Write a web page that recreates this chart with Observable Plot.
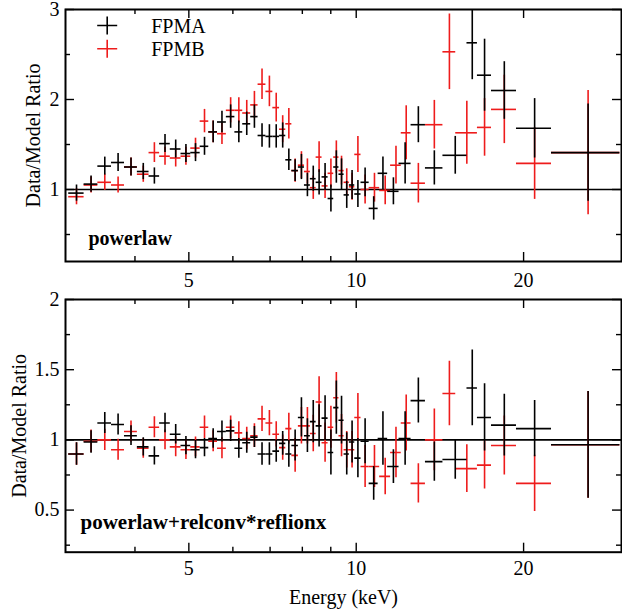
<!DOCTYPE html>
<html><head><meta charset="utf-8">
<script src="https://cdn.jsdelivr.net/npm/d3@7"></script>
<script src="https://cdn.jsdelivr.net/npm/@observablehq/plot@0.6"></script>
<style>
body{margin:0;background:#fff;}
#chart{width:622px;height:610px;}
#chart svg{display:block;}
</style></head><body><div id="chart"></div>
<script>
// ---------- DATA ----------
// energy bin edges (keV)
const edgesA = [3.04,3.24,3.43,3.63,3.83,4.04,4.24,4.43,4.63,4.84,5.04,5.24,5.43,5.63,5.84,6.05,6.25,6.46,6.66,6.88,7.08,7.28,7.47,7.66,7.87,8.07,8.27,8.47,8.68,8.90,9.11,9.31,9.51,9.72,9.94,10.20,10.55,10.95,11.39,11.94,12.55,13.32,14.32,15.82,16.52,17.51,19.42,22.45,29.8];
const edgesB = [3.04,3.24,3.43,3.63,3.83,4.04,4.24,4.43,4.63,4.84,5.04,5.24,5.43,5.63,5.84,6.05,6.25,6.46,6.66,6.88,7.08,7.28,7.47,7.66,7.87,8.07,8.27,8.47,8.68,8.90,9.11,9.31,9.51,9.72,9.94,10.20,10.55,11.02,11.53,12.05,12.55,13.32,14.32,15.10,16.52,17.51,19.42,22.45,29.8];
// FPMA, powerlaw
const ratioA_pl = [0.96,1.06,1.26,1.30,1.25,1.20,1.15,1.51,1.45,1.40,1.41,1.48,1.64,1.75,1.81,1.64,1.73,1.81,1.60,1.59,1.59,1.60,1.33,1.21,1.25,1.05,1.12,1.08,1.14,0.90,1.25,1.17,0.94,1.05,0.95,1.08,0.79,1.18,0.98,1.29,1.72,1.24,1.38,2.63,2.27,2.10,1.68,1.41];
const errA_pl = [0.09,0.09,0.10,0.10,0.10,0.09,0.09,0.10,0.10,0.10,0.10,0.10,0.12,0.12,0.13,0.12,0.13,0.13,0.13,0.13,0.13,0.14,0.12,0.12,0.14,0.13,0.14,0.14,0.15,0.15,0.18,0.17,0.15,0.16,0.15,0.16,0.13,0.18,0.15,0.23,0.20,0.19,0.21,0.41,0.40,0.32,0.33,0.54];
// FPMB, powerlaw
const ratioB_pl = [0.92,1.05,1.08,1.05,1.25,1.17,1.41,1.37,1.35,1.37,1.46,1.76,1.64,1.62,1.88,1.88,1.85,1.94,2.17,2.09,1.91,1.67,1.73,1.21,1.27,1.20,1.02,1.36,1.04,1.18,1.36,1.21,1.08,1.03,1.39,1.00,1.02,0.99,1.27,1.63,1.07,1.72,2.53,1.63,1.69,1.89,1.29,1.41];
const errB_pl = [0.09,0.09,0.09,0.09,0.10,0.09,0.11,0.10,0.10,0.10,0.11,0.13,0.12,0.12,0.14,0.14,0.14,0.15,0.17,0.17,0.16,0.15,0.17,0.13,0.15,0.14,0.13,0.17,0.14,0.16,0.18,0.16,0.15,0.15,0.20,0.16,0.16,0.16,0.21,0.30,0.22,0.27,0.42,0.35,0.32,0.38,0.40,0.69];
// FPMA, powerlaw+relconv*reflionx
const ratioA_rx = [0.90,0.985,1.12,1.11,1.03,0.95,0.886,1.12,1.04,0.96,0.93,0.945,1.01,1.06,1.064,0.94,0.98,1.02,0.90,0.90,0.92,0.975,0.90,0.96,1.16,1.03,1.13,1.10,1.155,0.91,1.23,1.14,0.90,0.985,0.87,0.99,0.69,1.01,0.81,1.01,1.28,0.845,0.86,1.37,1.16,1.105,1.08,0.965];
const errA_rx = [0.08,0.08,0.075,0.075,0.07,0.065,0.065,0.07,0.07,0.065,0.065,0.065,0.07,0.075,0.075,0.07,0.075,0.075,0.08,0.08,0.08,0.085,0.095,0.11,0.14,0.12,0.15,0.15,0.16,0.16,0.19,0.17,0.15,0.15,0.14,0.16,0.12,0.19,0.12,0.19,0.16,0.14,0.14,0.27,0.24,0.22,0.20,0.38];
// FPMB, powerlaw+relconv*reflionx
const ratioB_rx = [0.90,0.99,1.00,0.93,1.06,0.94,1.09,1.00,0.95,0.93,0.95,1.09,0.99,0.94,1.09,1.05,1.01,1.03,1.15,1.12,1.04,0.945,1.08,0.89,1.10,1.10,1.045,1.27,0.98,1.09,1.30,1.03,0.93,0.93,1.16,0.81,0.81,0.74,0.91,1.12,0.69,1.00,1.33,0.795,0.82,0.96,0.69,0.965];
const errB_rx = [0.08,0.08,0.075,0.075,0.075,0.07,0.075,0.07,0.07,0.07,0.07,0.08,0.075,0.075,0.08,0.08,0.08,0.085,0.09,0.09,0.09,0.09,0.11,0.12,0.13,0.13,0.13,0.18,0.14,0.15,0.18,0.15,0.13,0.13,0.17,0.15,0.15,0.13,0.18,0.20,0.14,0.22,0.23,0.17,0.17,0.21,0.20,0.38];

const seriesNames = ["FPMA", "FPMB"];
const seriesColors = ["#000000", "#ee1c1c"];
const xTickLabels = [5, 10, 20];
const xMinorTicks = [4, 6, 7, 8, 9];
const topYLabels = [1, 2, 3];
const topYMinor = [0.5, 1.5, 2.5];
const botYLabels = [0.5, 1, 1.5, 2];
const botYMinor = [0.25, 0.75, 1.25, 1.75];
const modelNames = ["powerlaw", "powerlaw+relconv*reflionx"];

// ---------- BUILD ----------
function rows(edges, vals, errs) {
  return vals.map((v, i) => ({lo: edges[i], hi: edges[i+1], e: (edges[i] + edges[i+1]) / 2, v, y1: v - errs[i], y2: v + errs[i]}));
}
const FONT = "Liberation Serif";
const W = 622, ML = 65, MR = 1;
const crossSym = {draw(ctx, size) { const r = Math.sqrt(size / Math.PI); ctx.moveTo(-r, 0); ctx.lineTo(r, 0); ctx.moveTo(0, -r * 0.9); ctx.lineTo(0, r * 0.9); }};
const T = {fontSize: 20, fontFamily: FONT, fill: "#000", lineAnchor: "middle"};

function panel(o) {
  const innerH = o.height - o.mt - o.mb, innerW = W - ML - MR;
  const marks = [];
  marks.push(Plot.ruleY([1], {stroke: "#000", strokeWidth: 1.6}));
  // red first, black on top
  [[o.b, seriesColors[1]], [o.a, seriesColors[0]]].forEach(([d, c]) => {
    marks.push(Plot.ruleX(d, {x: "e", y1: "y1", y2: "y2", stroke: c, strokeWidth: 1.6, clip: true}));
    marks.push(Plot.ruleY(d, {y: "v", x1: "lo", x2: "hi", stroke: c, strokeWidth: 1.6, clip: true}));
  });
  const tk = {stroke: "#000", strokeWidth: 1.4};
  marks.push(Plot.ruleX(xTickLabels, {x: d => d, insetTop: innerH - 9, ...tk}));
  marks.push(Plot.ruleX(xTickLabels, {x: d => d, insetBottom: innerH - 9, ...tk}));
  marks.push(Plot.ruleX(xMinorTicks, {x: d => d, insetTop: innerH - 5, ...tk}));
  marks.push(Plot.ruleX(xMinorTicks, {x: d => d, insetBottom: innerH - 5, ...tk}));
  marks.push(Plot.ruleY(o.yMajor, {y: d => d, insetRight: innerW - 9, ...tk}));
  marks.push(Plot.ruleY(o.yMajor, {y: d => d, insetLeft: innerW - 9, ...tk}));
  marks.push(Plot.ruleY(o.yMinor, {y: d => d, insetRight: innerW - 5, ...tk}));
  marks.push(Plot.ruleY(o.yMinor, {y: d => d, insetLeft: innerW - 5, ...tk}));
  marks.push(Plot.frame({stroke: "#000", strokeWidth: 2}));
  marks.push(Plot.axisX({ticks: xTickLabels, tickSize: 0, tickPadding: o.xPad, tickFormat: d => String(d), fontSize: 20, fontFamily: FONT, label: null, fill: "#000"}));
  marks.push(Plot.axisY({ticks: o.yMajor, tickSize: 0, tickPadding: 6, tickFormat: d => String(d), fontSize: 20, fontFamily: FONT, label: null, fill: "#000"}));
  marks.push(Plot.text(["Data/Model Ratio"], {text: d => d, frameAnchor: "left", textAnchor: "middle", rotate: -90, dx: o.yLabDx, ...T}));
  marks.push(Plot.text([o.model], {text: d => d, frameAnchor: "bottom-left", textAnchor: "start", dx: o.modelDx, dy: o.modelDy, fontWeight: "bold", ...T, fontSize: o.modelSize}));
  if (o.legend) {
    seriesNames.forEach((n, i) => {
      const dy = i === 0 ? 16 : 39.3;
      marks.push(Plot.dot([n], {frameAnchor: "top-left", dx: 41.7, dy, r: 10, symbol: crossSym, stroke: seriesColors[i], fill: "none", strokeWidth: 1.6}));
      marks.push(Plot.text([n], {text: d => d, frameAnchor: "top-left", textAnchor: "start", dx: 85.7, dy: dy + 0.9, ...T}));
    });
  }
  if (o.xLabel) {
    marks.push(Plot.text(["Energy (keV)"], {text: d => d, frameAnchor: "bottom", textAnchor: "middle", dy: o.xLabDy, ...T}));
  }
  return Plot.plot({
    width: W, height: o.height,
    marginLeft: ML, marginRight: MR, marginTop: o.mt, marginBottom: o.mb,
    style: {fontFamily: FONT, background: "#fff", color: "#000", overflow: "visible"},
    x: {type: "log", domain: [3, 30]},
    y: {domain: o.yDomain},
    marks
  });
}

const chart = document.getElementById("chart");
chart.appendChild(panel({
  height: 295, mt: 9, mb: 34, yDomain: [0.2, 3], yMajor: topYLabels, yMinor: topYMinor,
  a: rows(edgesA, ratioA_pl, errA_pl), b: rows(edgesB, ratioB_pl, errB_pl),
  model: modelNames[0], modelSize: 20, modelDx: 23, modelDy: -23.4, yLabDx: -32, xPad: 11, legend: true
}));
chart.appendChild(panel({
  height: 315, mt: 4, mb: 58.3, yDomain: [0.2, 2], yMajor: botYLabels, yMinor: botYMinor,
  a: rows(edgesA, ratioA_rx, errA_rx), b: rows(edgesB, ratioB_rx, errB_rx),
  model: modelNames[1], modelSize: 21, modelDx: 15, modelDy: -29.5, yLabDx: -46.4, xPad: 9, xLabel: true, xLabDy: 44.9
}));
</script></body></html>
